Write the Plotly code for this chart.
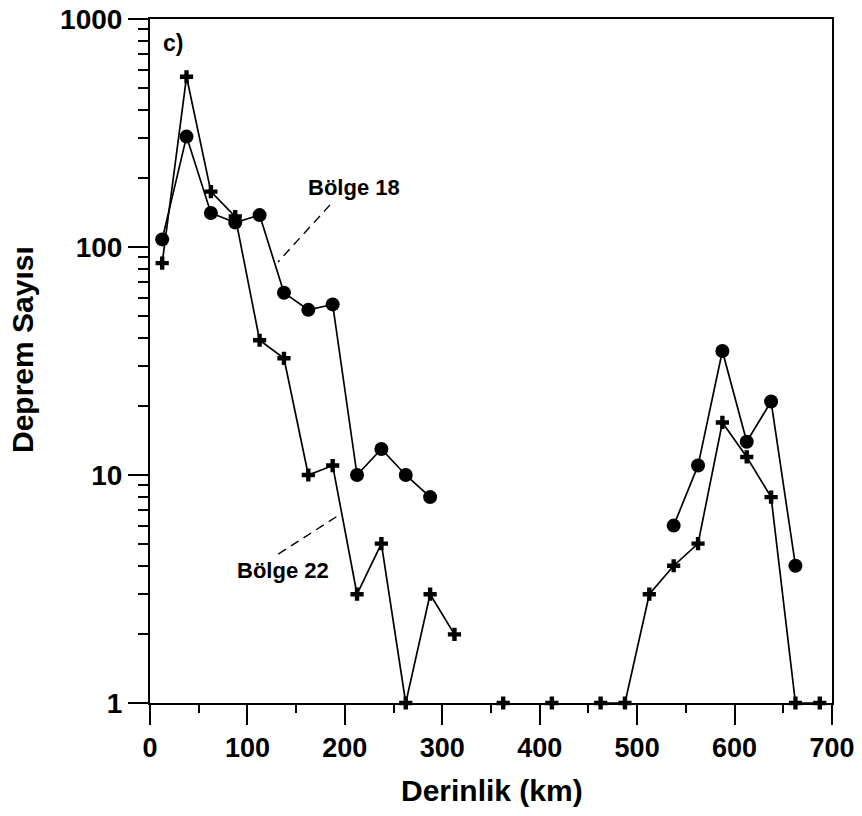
import math
import plotly.graph_objects as go

# Data (bin centres of 25-km depth bins)
depths = [12.5 + 25 * k for k in range(28)]
bolge18 = [108, 305, 141, 128, 138, 63, 53, 56, 10, 13, 10, 8,
           None, None, None, None, None, None, None, None, None,
           6, 11, 35, 14, 21, 4, None]
bolge22 = [85, 558, 175, 136, 39, 32.5, 10, 11, 3, 5, 1, 3, 2,
           None, 1, None, 1, None, 1, 1, 3, 4, 5, 17, 12, 8, 1, 1]

x_ticks = [0, 100, 200, 300, 400, 500, 600, 700]
y_ticks = [1, 10, 100, 1000]

# label leader lines (data coords)
lead18_x = [184.8, 131.4]
lead18_y = [153, 86]
lead22_x = [131.7, 197.0]
lead22_y = [4.5, 6.8]

FONT = "Liberation Sans, Arial, sans-serif"

fig = go.Figure()
fig.add_trace(go.Scatter(
    x=depths, y=bolge18, mode="lines+markers", connectgaps=False,
    line=dict(color="black", width=1.7),
    marker=dict(symbol="circle", size=14, color="black"),
    cliponaxis=False, showlegend=False))
fig.add_trace(go.Scatter(
    x=depths, y=bolge22, mode="lines+markers", connectgaps=False,
    line=dict(color="black", width=1.7),
    marker=dict(symbol="cross", size=11, color="black"),
    cliponaxis=False, showlegend=False))
for lx, ly in [(lead18_x, lead18_y), (lead22_x, lead22_y)]:
    fig.add_trace(go.Scatter(x=lx, y=ly, mode="lines",
                             line=dict(color="black", width=1.4, dash="9px,6px"),
                             showlegend=False, hoverinfo="skip"))

fig.update_layout(
    width=862, height=816,
    margin=dict(l=150, r=30, t=19, b=113),
    paper_bgcolor="white", plot_bgcolor="white",
    font=dict(family=FONT, color="black"),
    xaxis=dict(range=[0, 700], tickvals=x_ticks, ticks="outside", ticklen=20,
               tickwidth=2, tickcolor="black", showline=True, linewidth=2,
               linecolor="black", mirror=True, showgrid=False, zeroline=False,
               automargin=False,
               tickfont=dict(family=FONT, size=27, weight="bold"),
               minor=dict(ticks="outside", ticklen=8, tickwidth=2,
                          tickcolor="black", dtick=50, showgrid=False)),
    yaxis=dict(type="log", range=[0, 3], tickvals=y_ticks, ticktext=["1", "10", "100", "1000"],
               ticks="outside", ticklen=20, tickwidth=2, tickcolor="black",
               showline=True, linewidth=2, linecolor="black", mirror=True,
               showgrid=False, zeroline=False, automargin=False,
               tickfont=dict(family=FONT, size=28, weight="bold"),
               minor=dict(ticks="outside", ticklen=10, tickwidth=2,
                          tickcolor="black", dtick="D1", showgrid=False)),
)

fig.add_annotation(x=(22 - 150) / 682, y=(703 - 350) / 684, xref="paper", yref="paper",
                   xanchor="center", yanchor="middle",
                   text="Deprem Sayısı", textangle=-90, showarrow=False,
                   font=dict(family=FONT, size=30, weight="bold"))
fig.add_annotation(x=(492 - 150) / 682, y=(703 - 790) / 684, xref="paper", yref="paper",
                   xanchor="center", yanchor="middle",
                   text="Derinlik (km)", showarrow=False,
                   font=dict(family=FONT, size=30, weight="bold"))
fig.add_annotation(x=(173 - 150) / 682, y=(703 - 43) / 684, xref="paper", yref="paper",
                   xanchor="center", yanchor="middle",
                   text="c)", showarrow=False,
                   font=dict(family=FONT, size=23, weight="bold"))
fig.add_annotation(x=209.4, y=math.log10(181.5), text="Bölge 18", showarrow=False,
                   xanchor="center", yanchor="middle",
                   font=dict(family=FONT, size=22, weight="bold"))
fig.add_annotation(x=136.6, y=math.log10(3.83), text="Bölge 22", showarrow=False,
                   xanchor="center", yanchor="middle",
                   font=dict(family=FONT, size=22, weight="bold"))

fig.write_html("out.html")
